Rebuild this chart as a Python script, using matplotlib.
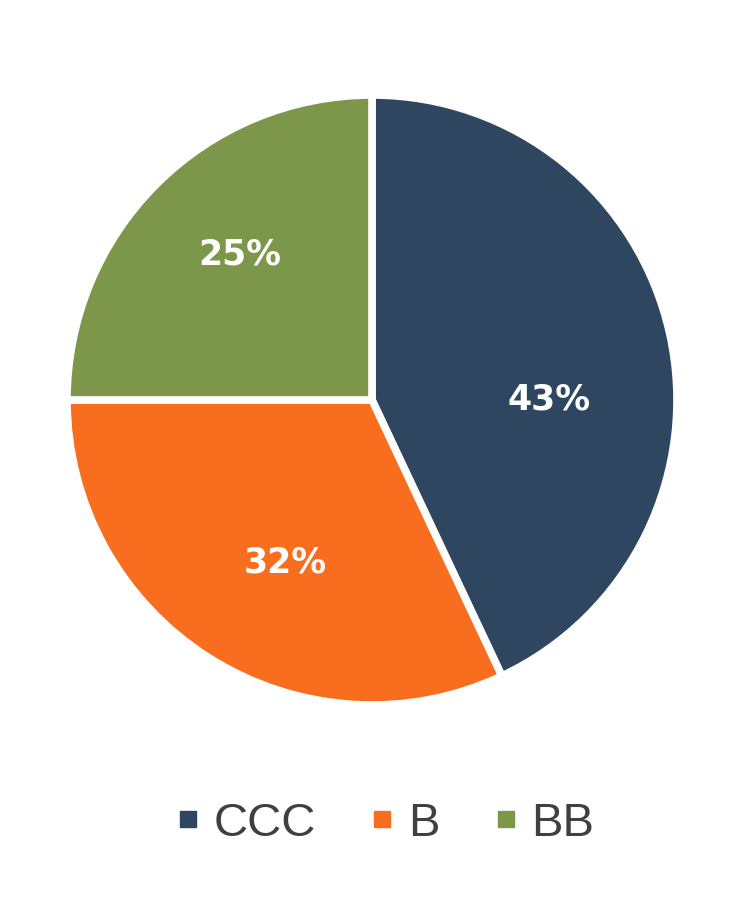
"""Pie chart of rating mix."""
import matplotlib
matplotlib.use("Agg")
import matplotlib.pyplot as plt
from matplotlib.lines import Line2D

categories = ["CCC", "B", "BB"]
shares = [43, 32, 25]
colors = ["#2E465F", "#F96E1E", "#7C974A"]
# label anchor points as fraction of the radius, like Excel's best fit
label_xy = [(0.586, 0.0), (-0.288, -0.538), (-0.437, 0.482)]

plt.rcParams["font.family"] = ["Liberation Sans", "DejaVu Sans"]

fig = plt.figure(figsize=(7.44, 9.08), dpi=100)
ax = fig.add_axes([70 / 744, 206 / 908, 604 / 744, 604 / 908])

wedges, texts, autotexts = ax.pie(
    shares,
    colors=colors,
    startangle=90,
    counterclock=False,
    radius=1.01,
    autopct="%d%%",
    wedgeprops=dict(edgecolor="white", linewidth=5.5),
    textprops=dict(color="white", fontsize=25, fontweight="bold",
                   family=["DejaVu Sans"]),
)
for t, xy in zip(autotexts, label_xy):
    t.set_position(xy)
ax.set_xlim(-1.0, 1.0)
ax.set_ylim(-1.0, 1.0)
ax.set_aspect("equal")

handles = [Line2D([], [], marker="s", linestyle="none", markersize=12,
                  markerfacecolor=c, markeredgecolor=c) for c in colors]
fig.legend(handles, categories, loc="center", bbox_to_anchor=(384 / 744, 1 - 824 / 908),
           ncol=3, frameon=False, prop=dict(family=["Liberation Sans"], size=34),
           labelcolor="#404040",
           handlelength=0.6, handletextpad=0.25, columnspacing=1.1)

fig.savefig("out.png", dpi=100)
plt.close(fig)
